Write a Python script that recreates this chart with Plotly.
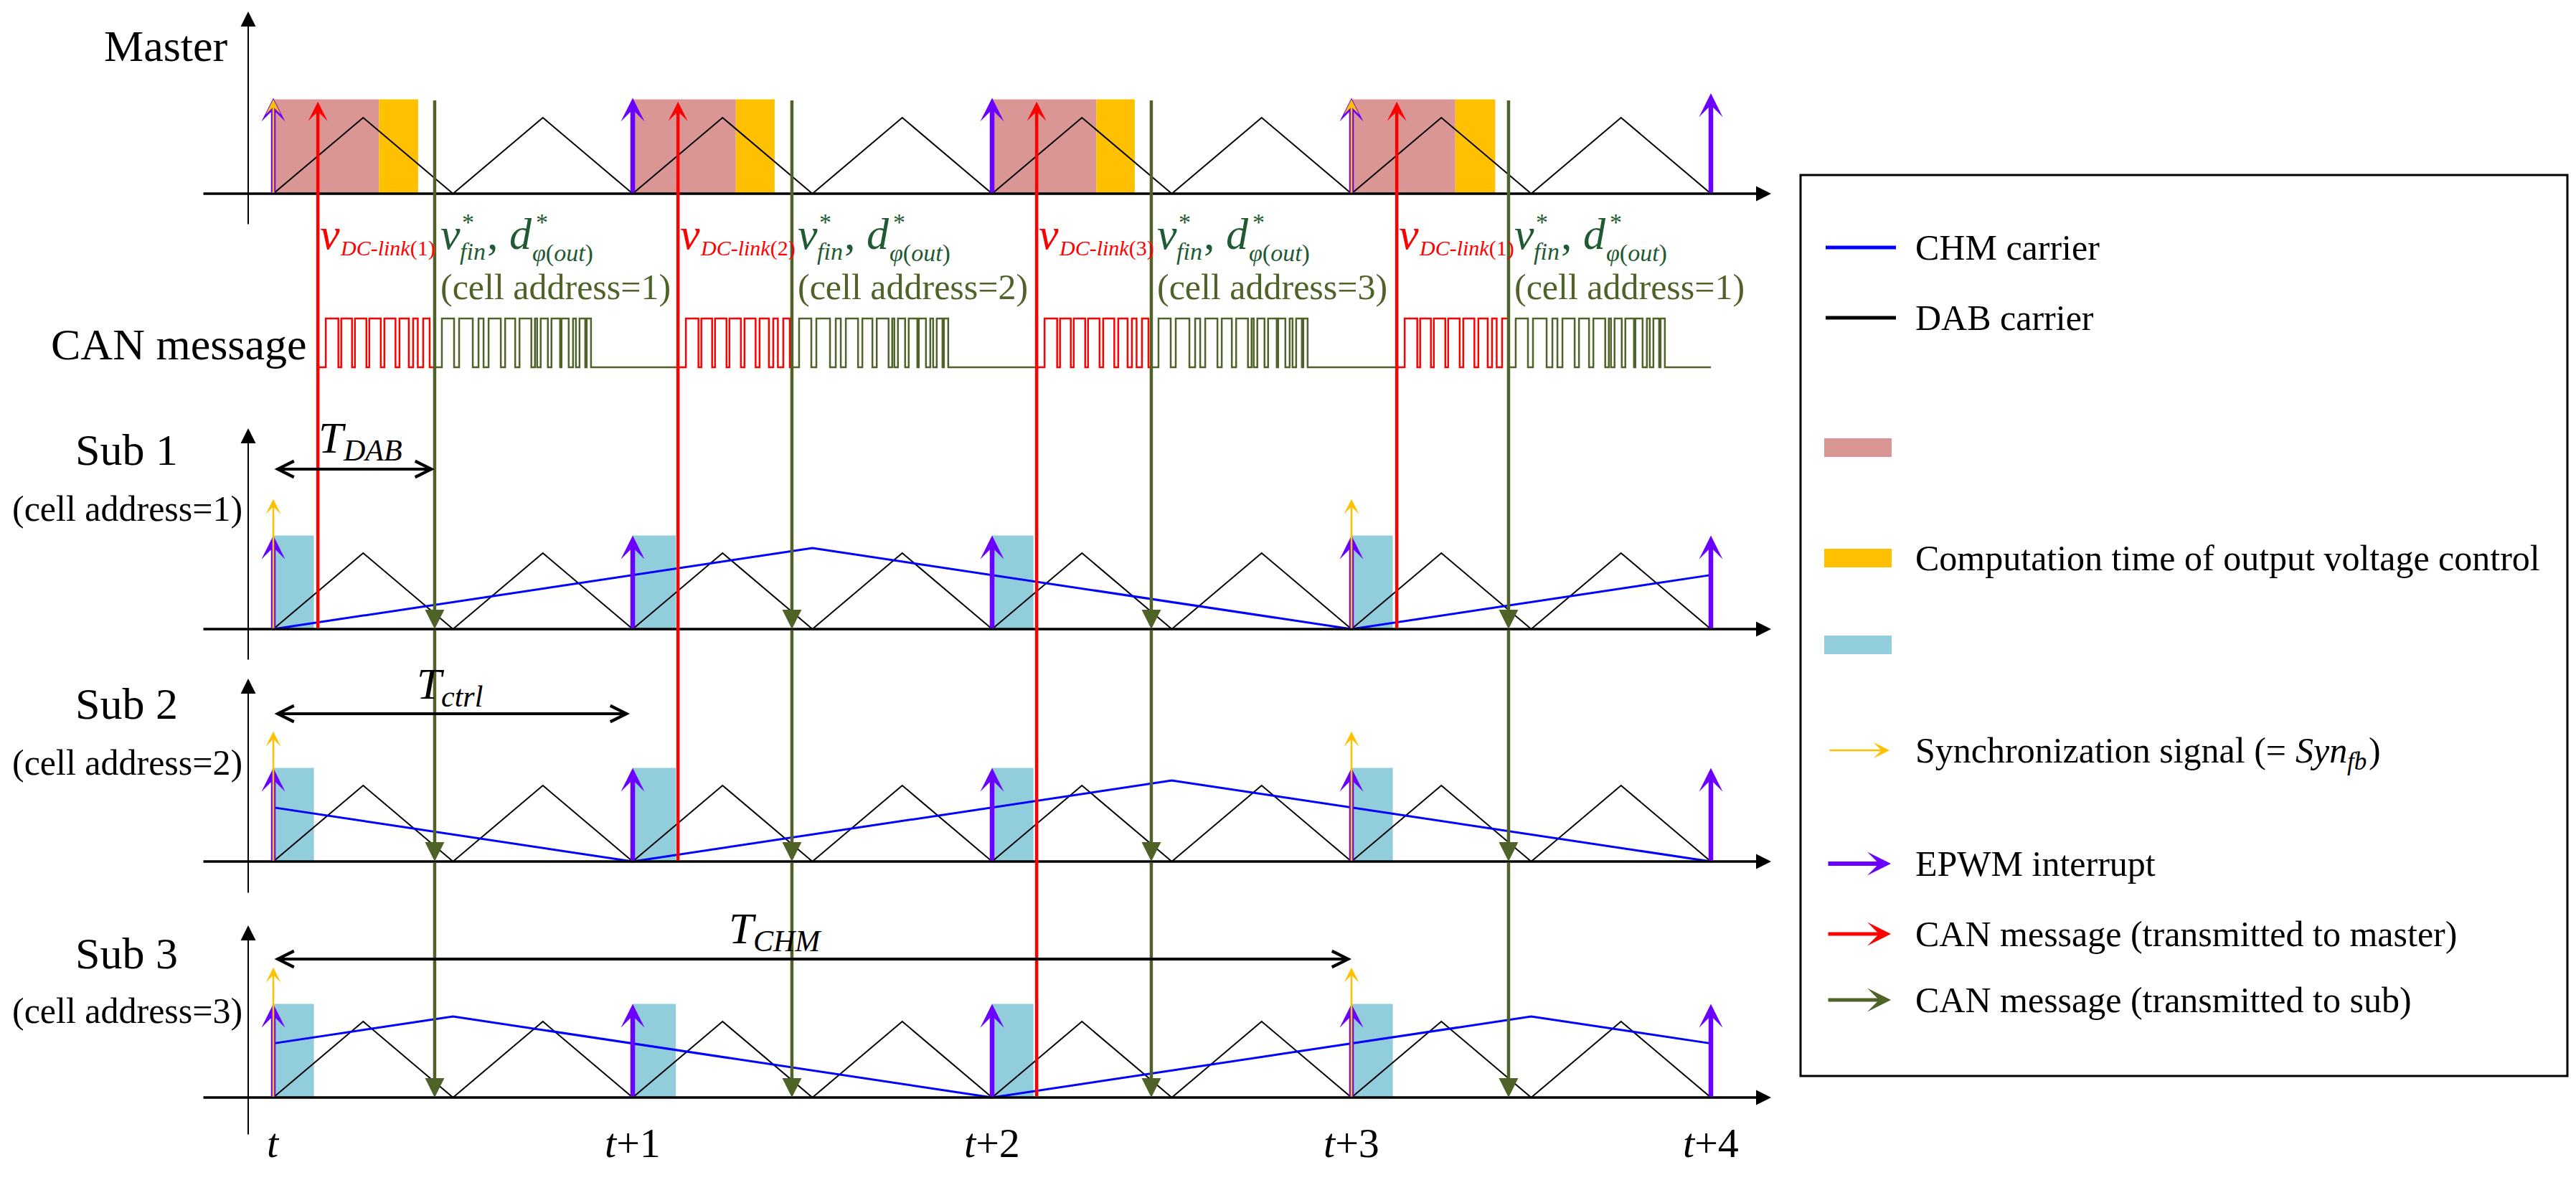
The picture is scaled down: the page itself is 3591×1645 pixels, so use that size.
import plotly.graph_objects as go

# ------------------------------------------------------------------ data
time_labels = ["t", "t+1", "t+2", "t+3", "t+4"]
tick_times = [0, 1, 2, 3, 4]
control_starts = [0, 1, 2, 3]
epwm_times = [0, 1, 2, 3, 4]
sync_times = [0, 3]

# DAB carrier vertices (same in master and every sub)
dab_t = [0, 0.25, 0.5, 0.75, 1, 1.25, 1.5, 1.75, 2, 2.25, 2.5, 2.75, 3, 3.25, 3.5, 3.75, 4]
dab_v = [0, 1, 0, 1, 0, 1, 0, 1, 0, 1, 0, 1, 0, 1, 0, 1, 0]

# CHM carrier vertices (normalised to its peak)
chm_sub1_t = [0, 1.5, 3, 4]
chm_sub1_v = [0.0, 1.0, 0.0, 0.667]
chm_sub2_t = [0, 1, 2.5, 4]
chm_sub2_v = [0.667, 0.0, 1.0, 0.0]
chm_sub3_t = [0, 0.5, 2, 3.5, 4]
chm_sub3_v = [0.667, 1.0, 0.0, 1.0, 0.667]

# CAN events
to_master_times = [0.124, 1.126, 2.124, 3.126]
to_master_cells = [1, 2, 3, 1]
to_sub_times = [0.449, 1.443, 2.443, 3.437]
to_sub_cells = [1, 2, 3, 1]

# computation windows
master_dclink_end = [0.294, 1.287, 2.290, 3.289]
master_vout_end = [0.403, 1.395, 2.397, 3.400]
sub_comp_end = [0.113, 1.120, 2.115, 3.115]

# CAN frame bit edges (relative to frame start, starting low)
can_master_edges = [0.022, 0.057, 0.065, 0.095, 0.103, 0.135, 0.143, 0.175,
                    0.185, 0.216, 0.227, 0.253, 0.265, 0.278, 0.293, 0.311]
can_sub_edges = [0.020, 0.054, 0.068, 0.106, 0.122, 0.136, 0.150, 0.184, 0.196,
                 0.224, 0.236, 0.269, 0.279, 0.285, 0.295, 0.315, 0.325, 0.349,
                 0.353, 0.373, 0.385, 0.393, 0.403, 0.419, 0.423, 0.435]

t_dab_span = [0, 0.449]
t_ctrl_span = [0, 0.992]
t_chm_span = [0, 3.0]

# ------------------------------------------------------------------ layout constants
W, H = 3591, 1645
T0_PX = 381.0
PX_PER_T = 501.0
AMP = 106.0          # DAB carrier amplitude (px)
CHM_AMP = 113.0      # CHM carrier amplitude (px)
BASE = {"master": 270, 1: 877, 2: 1201, 3: 1530}
AXIS_TOP = {"master": 16, 1: 597, 2: 946, 3: 1290}
AXIS_BOT = {"master": 314, 1: 921, 2: 1246, 3: 1583}
CAN_LOW, CAN_HIGH = 512, 444
RECT_H, EPWM_H, EPWM_H_LAST = 1.24, 1.26, 1.32
SUB_EPWM_H, SUB_SYNC_H, CYAN_H = 1.23, 1.71, 1.23
RED_TIP_H = 1.21

FONT = "Liberation Serif, Times New Roman, serif"
ASC = 0.891
MATH_SIZE = 62
PINK, ORANGE, CYAN = "#D99694", "#FFC000", "#92CDDC"
PURPLE, RED, GREEN, BLUE = "#6A00FF", "#FF0000", "#4F6228", "#0000FF"
MATHGREEN = "#1F5A32"

IT_W = {"v": .444, "T": .556, "d": .5, "S": .5, "y": .444, "n": .5, "f": .278, "b": .5, "i": .278}
RM_W = {"S": .556, "y": .5, "n": .5, "c": .444, "h": .5, "r": .333, "o": .5, "i": .278, "z": .444,
        "a": .444, "t": .278, "g": .5, "l": .278, "s": .389, " ": .25, "(": .333, "=": .564, ",": .25}


def tw(s, size, italic=False):
    tab = IT_W if italic else RM_W
    return sum(tab[c] for c in s) * size


def X(px):
    return (px - T0_PX) / PX_PER_T


def Y(panel, v):
    return BASE[panel] - v * AMP


fig = go.Figure()
shapes, ann = [], []


def arrow(x0, y0, x1, y1, color, width, head=3, size=1.0, side="end"):
    ann.append(dict(x=x1, y=y1, ax=x0, ay=y0, xref="x", yref="y", axref="x", ayref="y",
                    text="", showarrow=True, arrowhead=head, arrowsize=size,
                    startarrowhead=head, startarrowsize=size, arrowside=side,
                    arrowwidth=width, arrowcolor=color, standoff=0, startstandoff=0))


def text(x, y, s, size, color="black", xanchor="center", yanchor="middle"):
    ann.append(dict(x=x, y=y, xref="x", yref="y", text=s, showarrow=False,
                    xanchor=xanchor, yanchor=yanchor, borderpad=0, borderwidth=0,
                    font=dict(family=FONT, size=size, color=color)))


def piece(x, baseline, s, size, color="black"):
    """left-anchored text whose baseline sits at `baseline`"""
    text(x, baseline - ASC * size, s, size, color, xanchor="left", yanchor="top")


def rect(x0, x1, y0, y1, color):
    shapes.append(dict(type="rect", xref="x", yref="y", x0=x0, x1=x1, y0=y0, y1=y1,
                       fillcolor=color, line=dict(width=0), layer="below"))


# ------------------------------------------------------------------ computation windows
for k, t0 in enumerate(control_starts):
    rect(t0, master_dclink_end[k], Y("master", 0), Y("master", RECT_H), PINK)
    rect(master_dclink_end[k], master_vout_end[k], Y("master", 0), Y("master", RECT_H), ORANGE)
    for p in (1, 2, 3):
        rect(t0, sub_comp_end[k], Y(p, 0), Y(p, CYAN_H), CYAN)

# ------------------------------------------------------------------ carriers
for p in ("master", 1, 2, 3):
    fig.add_trace(go.Scatter(x=dab_t, y=[Y(p, v) for v in dab_v], mode="lines",
                             line=dict(color="black", width=2), hoverinfo="skip"))
for p, ts, vs in ((1, chm_sub1_t, chm_sub1_v), (2, chm_sub2_t, chm_sub2_v), (3, chm_sub3_t, chm_sub3_v)):
    fig.add_trace(go.Scatter(x=ts, y=[BASE[p] - v * CHM_AMP for v in vs], mode="lines",
                             line=dict(color=BLUE, width=3), hoverinfo="skip"))


# ------------------------------------------------------------------ CAN message waveform
def frame(start, edges, end):
    xs, ys, lvl = [start], [0], 0
    for e in edges:
        lvl = 1 - lvl
        xs.append(start + e)
        ys.append(lvl)
    xs.append(end)
    ys.append(lvl)
    return xs, [CAN_LOW - l * (CAN_LOW - CAN_HIGH) for l in ys]


rx, ry, gx, gy = [], [], [], []
for k in range(len(to_master_times)):
    xs, ys = frame(to_master_times[k], can_master_edges, to_sub_times[k])
    rx += xs + [None]
    ry += ys + [None]
    nxt = to_master_times[k + 1] if k + 1 < len(to_master_times) else tick_times[-1]
    xs, ys = frame(to_sub_times[k], can_sub_edges, nxt)
    gx += xs + [None]
    gy += ys + [None]
fig.add_trace(go.Scatter(x=rx, y=ry, mode="lines", line=dict(color=RED, width=2.5, shape="hv"),
                         hoverinfo="skip"))
fig.add_trace(go.Scatter(x=gx, y=gy, mode="lines", line=dict(color=GREEN, width=2.5, shape="hv"),
                         hoverinfo="skip"))

# ------------------------------------------------------------------ axes
for p in ("master", 1, 2, 3):
    arrow(X(346), AXIS_BOT[p], X(346), AXIS_TOP[p], "black", 2, head=2, size=2.1)
    arrow(X(282), BASE[p], X(2469), BASE[p], "black", 3.5, head=2, size=1.2)

# ------------------------------------------------------------------ interrupts / sync
for t in epwm_times:
    h = EPWM_H_LAST if t == epwm_times[-1] else EPWM_H
    arrow(t, Y("master", 0), t, Y("master", h), PURPLE, 6.5, size=0.85)
    if t in sync_times:
        arrow(t, Y("master", 0), t, Y("master", h - 0.02), ORANGE, 2.5, size=1.4)
for p in (1, 2, 3):
    for t in epwm_times:
        if t in sync_times:
            arrow(t, Y(p, 0), t, Y(p, SUB_SYNC_H), ORANGE, 2.5, size=1.4)
        arrow(t, Y(p, 0), t, Y(p, SUB_EPWM_H), PURPLE, 6.5, size=0.85)
        if t in sync_times:
            arrow(t, Y(p, 0), t, Y(p, SUB_EPWM_H), ORANGE, 2.5, side="none")

# ------------------------------------------------------------------ CAN arrows
for k, t in enumerate(to_master_times):
    arrow(t, Y(to_master_cells[k], 0), t, Y("master", RED_TIP_H), RED, 4.5, size=1.0)
for t in to_sub_times:
    arrow(t, Y("master", RECT_H), t, Y(1, 0), GREEN, 4.5, head=2, size=1.2)
    arrow(t, Y(1, 0), t, Y(2, 0), GREEN, 4.5, head=2, size=1.2)
    arrow(t, Y(2, 0), t, Y(3, 0), GREEN, 4.5, head=2, size=1.2)

# ------------------------------------------------------------------ period arrows
arrow(t_dab_span[0], 654, t_dab_span[1], 654, "black", 4, head=5, size=1.1, side="end+start")
arrow(t_ctrl_span[0], 995, t_ctrl_span[1], 995, "black", 4, head=5, size=1.1, side="end+start")
arrow(t_chm_span[0], 1337, t_chm_span[1], 1337, "black", 4, head=5, size=1.1, side="end+start")
for px, base, sub in ((444, 631, "DAB"), (581, 974, "ctrl"), (1016, 1315, "CHM")):
    piece(X(px), base, "<i>T</i>", 62)
    piece(X(px + tw("T", 62, True)), base + 11, "<i>%s</i>" % sub, 42)

# ------------------------------------------------------------------ labels
text(X(231), 64, "Master", 62)
text(X(427), 480, "CAN message", 62, xanchor="right")
for p, (yc, ya) in {1: (627, 709), 2: (981, 1063), 3: (1329, 1409)}.items():
    text(X(176), yc, "Sub %d" % p, 62)
    text(X(177), ya, "(cell address=%d)" % p, 50)
for t, lab in zip(tick_times, time_labels):
    text(t, 1593, "<i>t</i>" + lab[1:], 58)

V_W = tw("v", MATH_SIZE, True)
for k in range(len(to_master_times)):
    tr = to_master_times[k]
    ts = to_sub_times[k]
    d = 1.0 / PX_PER_T
    # value transmitted to the master
    piece(tr + 3 * d, 347, "<i>v</i>", MATH_SIZE, RED)
    piece(tr + (3 + V_W) * d, 356, "<i>DC-link</i>(%d)" % to_master_cells[k], 30, RED)
    # references transmitted to the sub
    piece(ts + 8 * d, 347, "<i>v</i>", MATH_SIZE, MATHGREEN)
    piece(ts + (8 + V_W) * d, 362, "<i>fin</i>", 34, MATHGREEN)
    piece(ts + 38 * d, 321, "*", 34, MATHGREEN)
    piece(ts + 73 * d, 347, ",", MATH_SIZE, MATHGREEN)
    piece(ts + 104 * d, 347, "<i>d</i>", MATH_SIZE, MATHGREEN)
    piece(ts + 141 * d, 321, "*", 34, MATHGREEN)
    piece(ts + 136 * d, 364, "<i>φ</i>(<i>out</i>)", 34, MATHGREEN)
    piece(ts + 8 * d, 417, "(cell address=%d)" % to_sub_cells[k], 50, GREEN)

# ------------------------------------------------------------------ legend (drawn)
shapes.append(dict(type="rect", xref="x", yref="y", x0=X(2510), x1=X(3579), y0=244, y1=1500,
                   line=dict(color="black", width=3), fillcolor="rgba(0,0,0,0)", layer="above"))
LTX = 2670
LEG_SIZE = 50
legend_items = [
    ("line", BLUE, 345, "CHM carrier"),
    ("line", "black", 443, "DAB carrier"),
    ("rect", PINK, 624, ""),
    ("rect", ORANGE, 778, "Computation time of output voltage control"),
    ("rect", CYAN, 899, ""),
    ("sync", ORANGE, 1046, None),
    ("arrow", PURPLE, 1204, "EPWM interrupt"),
    ("arrow", RED, 1302, "CAN message (transmitted to master)"),
    ("arrow", GREEN, 1394, "CAN message (transmitted to sub)"),
]
for kind, col, yy, lab in legend_items:
    if kind == "line":
        shapes.append(dict(type="line", xref="x", yref="y", x0=X(2545), x1=X(2643), y0=yy, y1=yy,
                           line=dict(color=col, width=5), layer="above"))
    elif kind == "rect":
        shapes.append(dict(type="rect", xref="x", yref="y", x0=X(2543), x1=X(2637), y0=yy - 13,
                           y1=yy + 13, fillcolor=col, line=dict(width=0), layer="above"))
    elif kind == "sync":
        arrow(X(2549), yy, X(2634), yy, col, 2.5, size=1.5)
    else:
        arrow(X(2547), yy, X(2636), yy, col, 6 if col == PURPLE else 5,
              size=0.92 if col == PURPLE else 1.1)
    if lab:
        text(X(LTX), yy, lab, LEG_SIZE, xanchor="left")
    elif lab is None:
        base = yy + (ASC - 0.216) / 2 * LEG_SIZE
        s1 = "Synchronization signal (="
        x1 = LTX + tw(s1 + " ", LEG_SIZE)
        x2 = x1 + tw("Syn", LEG_SIZE, True)
        x3 = x2 + tw("fb", 35, True) + 3
        piece(X(LTX), base, s1, LEG_SIZE)
        piece(X(x1), base, "<i>Syn</i>", LEG_SIZE)
        piece(X(x2), base + 10, "<i>fb</i>", 35)
        piece(X(x3), base, ")", LEG_SIZE)

fig.update_layout(
    width=W, height=H, margin=dict(l=0, r=0, t=0, b=0),
    paper_bgcolor="white", plot_bgcolor="white", showlegend=False,
    xaxis=dict(range=[X(0), X(W)], visible=False, fixedrange=True),
    yaxis=dict(range=[H, 0], visible=False, fixedrange=True),
    shapes=shapes, annotations=ann,
)

fig.write_html("out.html", config={"displayModeBar": False},
               post_script="document.body.style.margin='0';document.body.style.overflow='hidden';")
